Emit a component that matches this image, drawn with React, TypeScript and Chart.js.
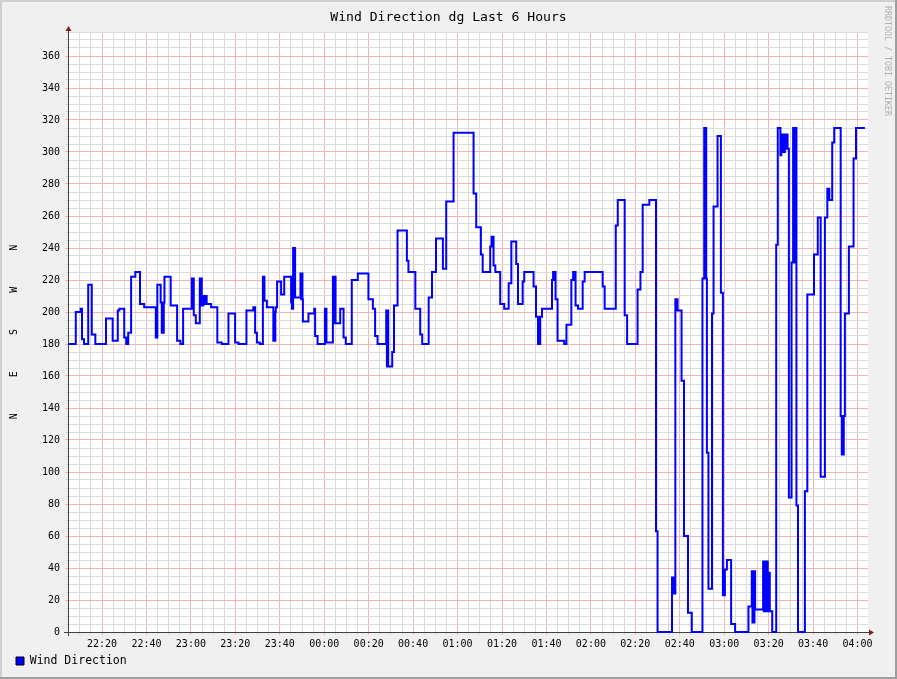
import { useEffect, useRef } from 'react';
import { Chart, registerables } from 'chart.js';

Chart.register(...registerables);

const TITLE = 'Wind Direction dg Last 6 Hours';
const SERIES_LABEL = 'Wind Direction';
const Y_AXIS_TITLE = 'N      E      S      W      N';
const WATERMARK = 'RRDTOOL / TOBI OETIKER';

// x axis: minutes after 22:00
const X_MIN = 4.7;
const X_MAX = 364.7;
const Y_MIN = 0;
const Y_MAX = 375;

const timeLabels = ['22:20', '22:40', '23:00', '23:20', '23:40', '00:00', '00:20', '00:40', '01:00',
  '01:20', '01:40', '02:00', '02:20', '02:40', '03:00', '03:20', '03:40', '04:00'];
const timeLabelMinutes = [20, 40, 60, 80, 100, 120, 140, 160, 180, 200, 220, 240, 260, 280, 300, 320, 340, 360];
const yLabelValues = [0, 20, 40, 60, 80, 100, 120, 140, 160, 180, 200, 220, 240, 260, 280, 300, 320, 340, 360];

// sample times (minutes after 22:00) and wind direction (degrees)
const minutes = [
  4.7, 8.2, 10.4, 11.0, 11.9, 13.8, 15.4, 17.0, 21.8, 24.8, 27.1, 27.8, 30.0, 30.9, 31.8, 33.1, 35.0, 37.1, 39.0,
  44.2, 44.5, 44.7, 44.9, 46.4, 46.9, 47.2, 47.5, 47.8, 48.1, 50.9, 53.8, 55.3, 56.5,
  60.4, 60.7, 61.0, 61.3, 62.2, 64.0, 64.3, 64.6, 64.9, 65.6, 65.9, 66.2, 66.5, 66.8, 67.1, 69.1, 71.9, 73.9,
  76.9, 79.9, 81.4, 85.0, 88.1, 88.9, 89.7, 91.0, 92.4, 92.7, 92.9, 93.1, 94.2, 97.1, 97.4, 97.7, 98.0, 98.2,
  98.8, 100.6, 102.0, 105.1, 105.5, 106.0, 106.3, 106.6, 106.9, 109.3, 109.6, 109.9, 110.2, 110.4,
  112.9, 115.5, 115.9, 117.0, 120.3, 120.6, 120.8, 121.0, 123.9, 124.3, 124.6, 125.1, 127.2, 128.7, 129.7,
  132.4, 135.1, 139.9, 141.9, 142.9, 144.0, 147.9, 148.2, 148.5, 148.8, 150.6, 151.4, 153.0, 157.2, 157.9,
  161.0, 163.2, 164.1, 167.0, 168.5, 170.3, 173.4, 174.9, 178.2, 187.2, 188.4, 190.5, 191.3, 194.7, 195.3,
  195.6, 195.9, 196.2, 197.0, 199.2, 201.0, 203.0, 204.2, 206.4, 207.2, 209.3, 210.0, 214.2, 215.3, 216.2,
  216.5, 216.8, 217.2,
  218.0, 222.5, 223.0, 223.4, 223.7, 224.1, 225.0, 228.0, 229.0, 231.2, 232.0, 232.4, 232.7, 233.1, 234.2,
  236.3, 237.2, 245.3, 246.2, 251.2, 252.1, 255.2, 256.3, 261.0, 262.3, 263.3, 266.3, 269.3, 270.0, 276.5,
  276.8, 277.1, 277.4, 278.0, 278.3, 278.6, 279.0, 280.8, 281.9, 283.7, 285.4,
  290.2, 291.0, 291.3, 291.6, 291.9, 292.2, 292.9, 294.5, 295.2, 297.0, 298.5, 299.4, 299.7, 300.0, 300.3,
  301.2, 303.1, 304.9, 310.9, 312.4, 312.7, 313.0, 313.3, 313.6, 313.9, 317.5, 317.8, 318.1, 318.4, 318.7,
  319.0, 319.3, 319.6, 319.9, 320.2, 320.5, 321.6, 323.4, 324.1, 325.3, 325.7, 326.1, 326.5, 326.9, 327.3,
  327.7, 328.1, 328.5, 329.1, 330.3, 331.0, 331.3, 331.6, 331.9, 332.2, 332.5, 333.2, 336.3, 337.4, 340.4,
  342.1, 343.4, 345.3, 346.4, 346.7, 347.0, 347.3, 348.6, 349.5, 352.4, 352.9, 353.2, 353.5, 353.8, 354.3,
  356.1, 358.2, 359.3, 363.3,
];
const direction = [
  180, 200, 202, 183, 180, 217, 186, 180, 196, 182, 201, 202, 184, 180, 187, 222, 225, 205, 203,
  184, 203, 184, 217, 206, 187, 206, 187, 206, 222, 204, 182, 180, 202,
  221, 202, 221, 198, 193, 221, 204, 221, 204, 210, 205, 210, 205, 210, 205, 203, 181, 180,
  199, 181, 180, 201, 203, 187, 181, 180, 222, 207, 222, 207, 203, 182, 200, 182, 200, 203,
  219, 211, 222, 206, 202, 240, 209, 240, 209, 224, 208, 224, 208, 194,
  199, 202, 185, 180, 202, 181, 202, 181, 222, 193, 222, 193, 202, 184, 180,
  220, 224, 208, 202, 185, 180, 201, 166, 201, 166, 175, 204, 251, 232, 225,
  202, 186, 180, 209, 225, 246, 227, 269, 312, 274, 253, 236, 225, 241, 247,
  241, 247, 229, 225, 205, 202, 218, 244, 230, 205, 219, 225, 216, 197, 180,
  197, 180, 197,
  202, 220, 225, 220, 225, 208, 182, 180, 192, 220, 225, 220, 225, 204, 202,
  219, 225, 216, 202, 254, 270, 198, 180, 214, 225, 267, 270, 63, 0, 34,
  24, 34, 24, 208, 201, 208, 201, 157, 60, 12, 0,
  221, 315, 221, 315, 221, 112, 27, 199, 266, 310, 212, 23, 39, 23, 39,
  45, 5, 0, 16, 38, 6, 38, 6, 38, 14, 44, 13, 44, 13, 44,
  13, 44, 37, 13, 37, 13, 0, 242, 315, 298, 311, 300, 311, 300, 311,
  302, 311, 302, 84, 231, 315, 231, 315, 231, 315, 79, 0, 88, 211, 236,
  259, 97, 259, 277, 270, 277, 270, 306, 315, 135, 111, 135, 111, 135, 199,
  241, 296, 315, 315,
];

const MINOR_GRID = '#dcdcdc';
const MAJOR_GRID = '#f2b4b4';
const FONT = '"DejaVu Sans Mono", monospace';

const xTickValues: number[] = [];
for (let v = 5; v <= 360; v += 5) xTickValues.push(v);
const yTickValues: number[] = [];
for (let v = 0; v <= Y_MAX; v += 5) yTickValues.push(v);

const rrdFrame = {
  id: 'rrdFrame',
  beforeDraw(chart: any) {
    const { ctx, width, height, chartArea: a } = chart;
    ctx.save();
    ctx.fillStyle = '#f0f0f0';
    ctx.fillRect(0, 0, width, height);
    ctx.fillStyle = '#cfcfcf';
    ctx.fillRect(0, 0, width, 2);
    ctx.fillRect(0, 0, 2, height);
    ctx.fillStyle = '#9e9e9e';
    ctx.fillRect(0, height - 2, width, 2);
    ctx.fillRect(width - 2, 0, 2, height);
    ctx.fillStyle = '#ffffff';
    ctx.fillRect(a.left, a.top, a.right - a.left, a.bottom - a.top);
    ctx.fillStyle = '#000000';
    ctx.font = `13.1px ${FONT}`;
    ctx.textAlign = 'center';
    ctx.textBaseline = 'middle';
    ctx.fillText(TITLE, width / 2, 17.5);
    ctx.translate(887.5, 6);
    ctx.rotate(Math.PI / 2);
    ctx.font = `8.3px ${FONT}`;
    ctx.fillStyle = '#b0b0b0';
    ctx.textAlign = 'left';
    ctx.fillText(WATERMARK, 0, 0);
    ctx.restore();
  },
  beforeDatasetsDraw(chart: any) {
    const { ctx, chartArea: a } = chart;
    ctx.save();
    ctx.strokeStyle = '#404040';
    ctx.lineWidth = 1;
    ctx.beginPath();
    ctx.moveTo(a.left - 4, a.bottom + 0.5);
    ctx.lineTo(a.right + 2, a.bottom + 0.5);
    ctx.moveTo(a.left + 0.5, a.bottom + 4);
    ctx.lineTo(a.left + 0.5, a.top - 2);
    ctx.stroke();
    ctx.fillStyle = '#7f1f1f';
    ctx.beginPath();
    ctx.moveTo(a.left + 0.5, a.top - 6);
    ctx.lineTo(a.left - 2.5, a.top - 1);
    ctx.lineTo(a.left + 3.5, a.top - 1);
    ctx.closePath();
    ctx.fill();
    ctx.beginPath();
    ctx.moveTo(a.right + 6, a.bottom + 0.5);
    ctx.lineTo(a.right + 1, a.bottom - 2.5);
    ctx.lineTo(a.right + 1, a.bottom + 3.5);
    ctx.closePath();
    ctx.fill();
    ctx.restore();
  },
};

const gridColor = (c: any) => (c.tick && c.tick.value % 20 === 0 ? MAJOR_GRID : MINOR_GRID);

export default function App() {
  const ref = useRef<HTMLCanvasElement>(null);
  useEffect(() => {
    if (!ref.current) return;
    const chart = new Chart(ref.current, {
      type: 'line',
      data: {
        datasets: [
          {
            label: SERIES_LABEL,
            data: minutes.map((m, i) => ({ x: m, y: direction[i] })),
            borderColor: '#0000ff',
            backgroundColor: '#0000ff',
            borderWidth: 2,
            pointRadius: 0,
            stepped: 'before',
            fill: false,
            clip: 4,
          } as any,
        ],
      },
      options: {
        responsive: false,
        devicePixelRatio: 1,
        animation: false,
        events: [],
        layout: { padding: { left: 12, right: 29, top: 32, bottom: 2.25 } },
        scales: {
          x: {
            type: 'linear',
            min: X_MIN,
            max: X_MAX,
            afterBuildTicks: (s: any) => {
              s.ticks = xTickValues.map((v) => ({ value: v }));
            },
            afterFit: (s: any) => {
              s.height = 19.25;
            },
            border: { display: false },
            grid: { color: gridColor, tickColor: gridColor, tickLength: 3, lineWidth: 1 },
            ticks: {
              autoSkip: false,
              maxRotation: 0,
              padding: 3,
              color: '#000',
              font: { family: FONT, size: 10 },
              callback: (v: any) => {
                const i = timeLabelMinutes.indexOf(Number(v));
                return i >= 0 ? timeLabels[i] : '';
              },
            },
          },
          y: {
            type: 'linear',
            min: Y_MIN,
            max: Y_MAX,
            afterBuildTicks: (s: any) => {
              s.ticks = yTickValues.map((v) => ({ value: v }));
            },
            afterFit: (s: any) => {
              s.width = 56;
            },
            border: { display: false },
            grid: { color: gridColor, tickColor: gridColor, tickLength: 3, lineWidth: 1 },
            title: {
              display: true,
              text: Y_AXIS_TITLE,
              color: '#000',
              font: { family: FONT, size: 10 },
              padding: { top: -4, bottom: 0 },
            },
            ticks: {
              autoSkip: false,
              padding: 5,
              color: '#000',
              font: { family: FONT, size: 10 },
              callback: (v: any) => (yLabelValues.includes(Number(v)) ? String(v) : ''),
            },
          },
        },
        plugins: {
          title: { display: false },
          tooltip: { enabled: false },
          legend: {
            display: true,
            position: 'bottom',
            align: 'start',
            labels: {
              boxWidth: 8,
              boxHeight: 8,
              padding: 4,
              color: '#000',
              font: { family: FONT, size: 11.5 },
              generateLabels: () => [
                {
                  text: SERIES_LABEL,
                  fillStyle: '#0000ff',
                  strokeStyle: '#000000',
                  lineWidth: 1,
                  hidden: false,
                  datasetIndex: 0,
                  fontColor: '#000',
                } as any,
              ],
            },
          },
        },
      },
      plugins: [rrdFrame],
    });
    return () => chart.destroy();
  }, []);
  return (
    <div style={{ position: 'fixed', left: 0, top: 0, width: 897, height: 679 }}>
      <canvas ref={ref} width={897} height={679} style={{ display: 'block', width: 897, height: 679 }} />
    </div>
  );
}
